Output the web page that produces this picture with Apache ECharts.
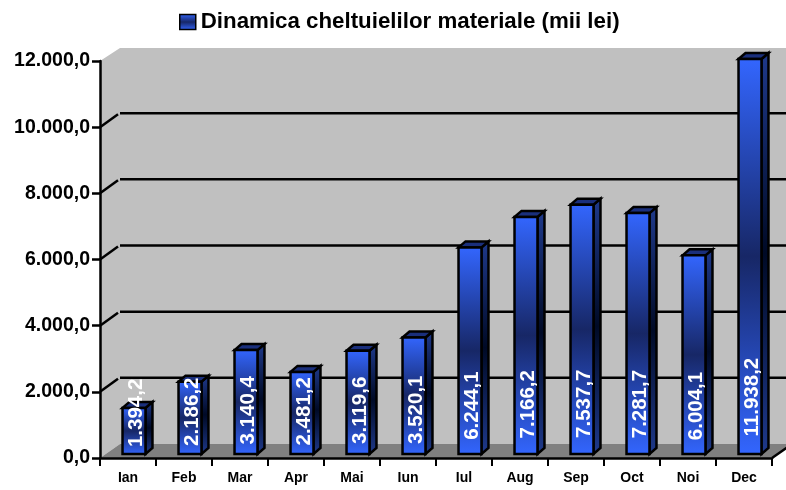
<!DOCTYPE html>
<html><head><meta charset="utf-8">
<style>html,body{margin:0;padding:0;background:#fff}#c{width:786px;height:490px}</style>
<script src="https://cdn.jsdelivr.net/npm/echarts@6/dist/echarts.min.js"></script>
</head><body><div id="c"></div>
<script>
const seriesName = 'Dinamica cheltuielilor materiale (mii lei)';
const categories = ['Ian','Feb','Mar','Apr','Mai','Iun','Iul','Aug','Sep','Oct','Noi','Dec'];
const values = [1394.2,2186.2,3140.4,2481.2,3119.6,3520.1,6244.1,7166.2,7537.7,7281.7,6004.1,11938.2];
const yTicks = [0,2000,4000,6000,8000,10000,12000];
const yTickLabels = ['0,0','2.000,0','4.000,0','6.000,0','8.000,0','10.000,0','12.000,0'];
const barLabels = ['1.394,2','2.186,2','3.140,4','2.481,2','3.119,6','3.520,1','6.244,1','7.166,2','7.537,7','7.281,7','6.004,1','11.938,2'];

const FONT = '"Liberation Sans", Arial, sans-serif';
const grad = (a, b) => ({type:'linear',x:0,y:0,x2:0,y2:1,colorStops:[{offset:0,color:a},{offset:.5,color:b},{offset:1,color:a}]});
const WALL_DX = 20, WALL_DY = 14, LW = 2.5;

function renderWall(params, api) {
  const c = params.coordSys;
  const l = c.x, r = c.x + c.width, t = c.y, b = c.y + c.height;
  const kids = [
    {type:'polygon',shape:{points:[[l,b],[l,t],[l+WALL_DX,t-WALL_DY+1],[r+WALL_DX,t-WALL_DY+1],[r+WALL_DX,b-WALL_DY],[l+WALL_DX,b-WALL_DY]]},style:{fill:'#c0c0c0'}},
    {type:'polygon',shape:{points:[[l,b],[l+WALL_DX,b-WALL_DY],[r+WALL_DX,b-WALL_DY],[r,b]]},style:{fill:'#808080'}},
    {type:'line',shape:{x1:r,y1:b,x2:r+WALL_DX,y2:b-WALL_DY},style:{stroke:'#000',lineWidth:LW}}
  ];
  yTicks.slice(1,-1).forEach(v => {
    const y = api.coord([0,v])[1];
    kids.push({type:'line',shape:{x1:l,y1:y,x2:l+WALL_DX-2,y2:y-WALL_DY+1},style:{stroke:'#000',lineWidth:LW}});
    kids.push({type:'line',shape:{x1:l+WALL_DX,y1:y-WALL_DY,x2:r+WALL_DX,y2:y-WALL_DY},style:{stroke:'#000',lineWidth:LW}});
  });
  return {type:'group',children:kids};
}

function renderBar(params, api) {
  const i = api.value(0), v = api.value(1);
  const band = api.size([1,0])[0];
  const baseP = api.coord([i,0]), topP = api.coord([i,v]);
  const w = band * 0.41, cx = baseP[0] + 6;
  const x0 = cx - w/2, x1 = cx + w/2, base = baseP[1] - 4, top = topP[1] - 4;
  const dx = 7, dy = 6;
  const stroke = {stroke:'#000',lineWidth:LW,lineJoin:'miter'};
  const labelY = base - 39 - v * 0.0015;
  return {type:'group',children:[
    {type:'polygon',shape:{points:[[x1,top],[x1+dx,top-dy],[x1+dx,base-dy],[x1,base]]},style:Object.assign({fill:grad('#1f3a8c','#000a26')},stroke)},
    {type:'polygon',shape:{points:[[x0,top],[x0+dx,top-dy],[x1+dx,top-dy],[x1,top]]},style:Object.assign({fill:'#1a2f7c'},stroke)},
    {type:'rect',shape:{x:x0,y:top,width:w,height:base-top},style:Object.assign({fill:grad('#3366ff','#172766')},stroke)},
    {type:'text',x:cx+2,y:labelY,rotation:Math.PI/2,style:{text:barLabels[i],fill:'#fff',font:'bold 20.5px '+FONT,align:'center',verticalAlign:'middle'}}
  ]};
}

const chart = echarts.init(document.getElementById('c'), null, {renderer:'canvas'});
chart.setOption({
  animation:false,
  backgroundColor:'#fff',
  legend:{data:[{name:seriesName,icon:'rect',itemStyle:{color:grad('#3366ff','#172766'),borderColor:'#000',borderWidth:1.5}}],
    left:174,top:6,itemWidth:16,itemHeight:15,itemGap:5,selectedMode:false,
    textStyle:{fontFamily:FONT,fontWeight:'bold',fontSize:22.3,color:'#000'}},
  grid:{left:100,top:61,right:14,bottom:32,containLabel:false},
  xAxis:{type:'category',data:categories,z:3,boundaryGap:true,
    axisLine:{show:true,lineStyle:{color:'#000',width:2.5}},
    axisTick:{show:true,length:8,lineStyle:{color:'#000',width:2}},
    axisLabel:{fontFamily:FONT,fontWeight:'bold',fontSize:14,color:'#000',margin:13},
    splitLine:{show:false}},
  yAxis:{type:'value',min:0,max:12000,interval:2000,z:3,
    axisLine:{show:true,lineStyle:{color:'#000',width:2.5}},
    axisTick:{show:true,length:8,lineStyle:{color:'#000',width:2.5}},
    axisLabel:{fontFamily:FONT,fontWeight:'bold',fontSize:19.5,color:'#000',margin:10,padding:[4,0,0,0],
      formatter:v => yTickLabels[yTicks.indexOf(v)]},
    splitLine:{show:false}},
  series:[
    {type:'custom',name:'wall',z:1,silent:true,renderItem:renderWall,data:[[0,0]],encode:{x:0,y:1},clip:false},
    {type:'custom',name:seriesName,z:4,renderItem:renderBar,data:values.map((v,i)=>[i,v]),encode:{x:0,y:1},clip:false,
      itemStyle:{color:'#3366ff'}}
  ]
});
</script></body></html>
